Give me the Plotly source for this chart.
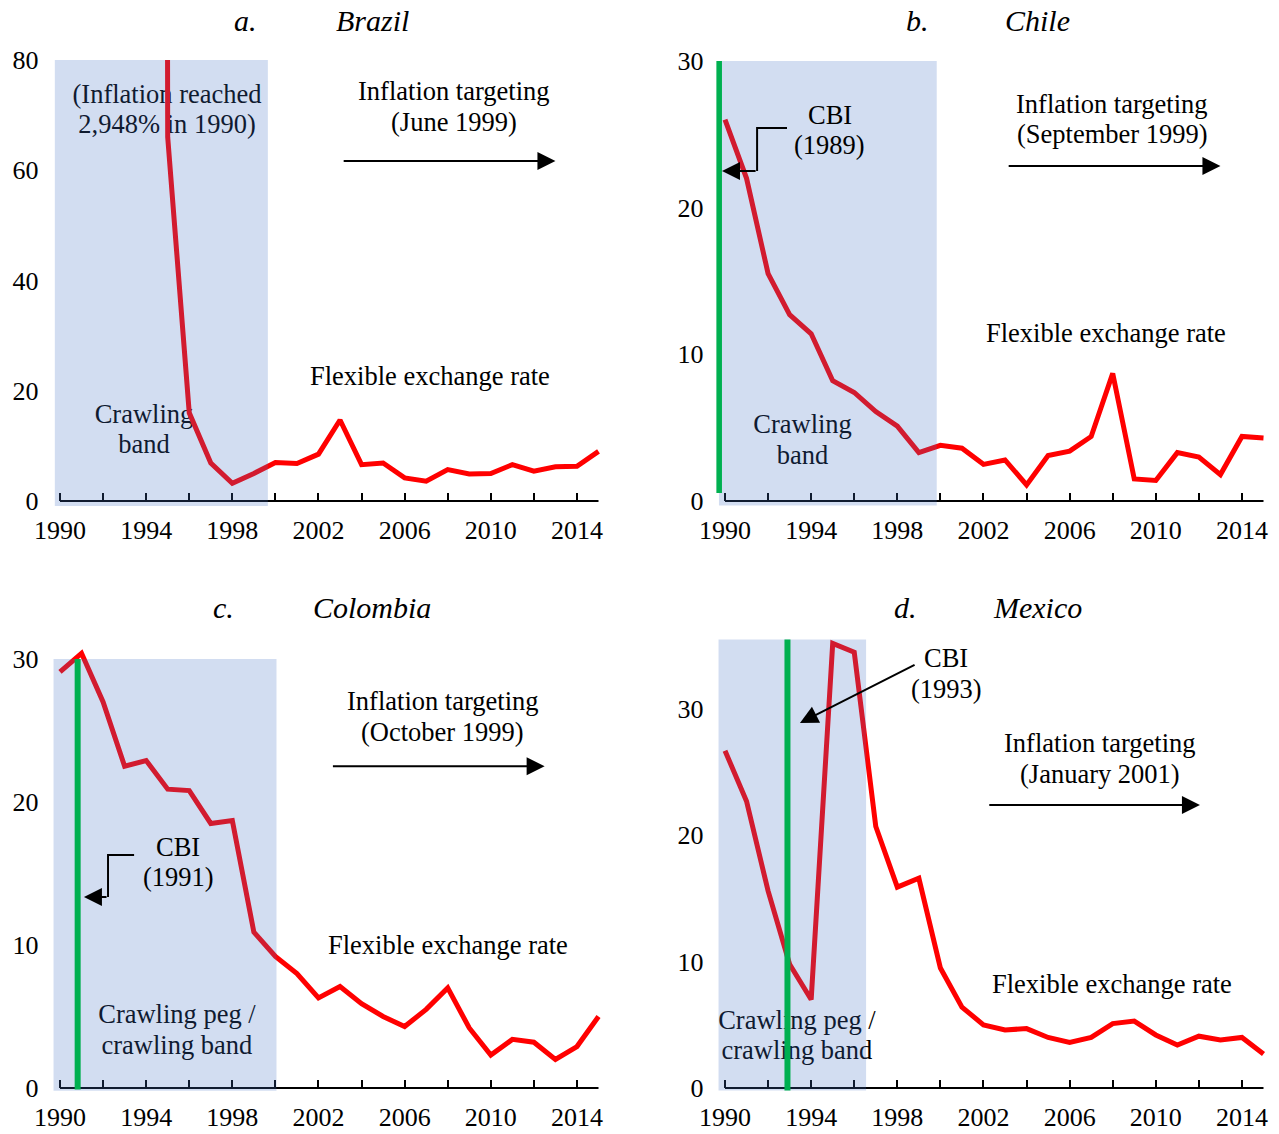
import plotly.graph_objects as go

# The page body margin is removed (post_script), so figure pixels == screen pixels.
OFF = 0
W, H = 1279 - OFF, 1134 - OFF
FONT = "Liberation Serif"

# ---------------- data ----------------
years = list(range(1990, 2016))
brazil = [2948, 433, 952, 1928, 2076, 66.0, 16.0, 6.9, 3.2, 5.0, 7.0, 6.8, 8.5, 14.7,
          6.6, 6.9, 4.2, 3.6, 5.7, 4.9, 5.0, 6.6, 5.4, 6.2, 6.3, 9.0]
chile = [26.0, 22.0, 15.5, 12.7, 11.4, 8.2, 7.4, 6.1, 5.1, 3.3, 3.8, 3.6, 2.5, 2.8,
         1.1, 3.1, 3.4, 4.4, 8.7, 1.5, 1.4, 3.3, 3.0, 1.8, 4.4, 4.3]
colombia = [29.1, 30.4, 27.0, 22.5, 22.9, 20.9, 20.8, 18.5, 18.7, 10.9, 9.2, 8.0, 6.3,
            7.1, 5.9, 5.0, 4.3, 5.5, 7.0, 4.2, 2.3, 3.4, 3.2, 2.0, 2.9, 5.0]
mexico = [26.7, 22.7, 15.6, 9.8, 7.0, 35.2, 34.5, 20.7, 15.9, 16.6, 9.5, 6.4, 5.0, 4.6,
          4.7, 4.0, 3.6, 4.0, 5.1, 5.3, 4.2, 3.4, 4.1, 3.8, 4.0, 2.7]

letters = ["a.", "b.", "c.", "d."]
countries = ["Brazil", "Chile", "Colombia", "Mexico"]
y_ticks = [[0, 20, 40, 60, 80], [0, 10, 20, 30], [0, 10, 20, 30], [0, 10, 20, 30]]
it_labels = ["(June 1999)", "(September 1999)", "(October 1999)", "(January 2001)"]
cbi_labels = [None, "(1989)", "(1991)", "(1993)"]

# ---------------- layout geometry (screen pixels) ----------------
PPY = 21.54
XR = (1989.6, 2015.2)
panels = [
    dict(series=brazil, x0px=60, zpx=501, ppu=5.5125, yr=(-1, 80),
         shade=(1989.76, 1999.65, -0.9, 80), green=None, tx=(245, 372), ty=21),
    dict(series=chile, x0px=725, zpx=501, ppu=14.667, yr=(-0.4, 30),
         shade=(1989.72, 1999.83, -0.3, 30), green=(1989.72, 0.55, 30), tx=(917, 1037), ty=21),
    dict(series=colombia, x0px=60, zpx=1088, ppu=14.3, yr=(-0.3, 30.7),
         shade=(1989.7, 2000.05, -0.2, 30), green=(1990.82, -0.1, 30), tx=(223, 372), ty=607),
    dict(series=mexico, x0px=725, zpx=1088, ppu=12.633, yr=(-0.3, 35.6),
         shade=(1989.7, 1996.55, -0.2, 35.5), green=(1992.9, -0.2, 35.5), tx=(905, 1037), ty=607),
]


def pxx(x):
    return (x - OFF) / W


def pxy(y):
    return 1 - (y - OFF) / H


fig = go.Figure()
shapes = []
annotations = []
TXT = 26.5
black_font = dict(family=FONT, size=TXT, color="black")


def text_trace(xr, yr, xs, ys, texts):
    fig.add_trace(go.Scatter(x=xs, y=ys, text=texts, mode="text", textfont=black_font,
                             textposition="middle center", cliponaxis=False,
                             hoverinfo="skip", showlegend=False, xaxis=xr, yaxis=yr))


def ann(xr, yr, x, y, text, size=TXT):
    annotations.append(dict(x=x, y=y, xref=xr, yref=yr, text=text, showarrow=False,
                            font=dict(family=FONT, size=size, color="black"),
                            xanchor="center", yanchor="middle"))


def arrow(xr, yr, x, y, ax, ay):
    annotations.append(dict(x=x, y=y, ax=ax, ay=ay, xref=xr, yref=yr, axref=xr, ayref=yr,
                            text="", showarrow=True, arrowhead=2, arrowsize=1.8,
                            arrowwidth=2, arrowcolor="black", standoff=0))


for i, p in enumerate(panels):
    sfx = "" if i == 0 else str(i + 1)
    xr, yr = "x" + sfx, "y" + sfx
    left = p["x0px"] + (XR[0] - 1990) * PPY
    right = p["x0px"] + (XR[1] - 1990) * PPY
    top = p["zpx"] - p["yr"][1] * p["ppu"]
    bottom = p["zpx"] - p["yr"][0] * p["ppu"]

    fig.update_layout(**{
        "xaxis" + sfx: dict(domain=[pxx(left), pxx(right)], range=list(XR), anchor="free",
                            position=pxy(p["zpx"]), showgrid=False, zeroline=False,
                            showline=False, tickmode="linear", tick0=1990, dtick=4,
                            ticks="inside", ticklen=8, tickwidth=2, tickcolor="black",
                            tickfont=dict(family=FONT, size=26, color="black"),
                            ticklabelstandoff=11, automargin=False, fixedrange=True,
                            minor=dict(tick0=1990, dtick=2, ticks="inside", ticklen=8,
                                       tickwidth=2, tickcolor="black")),
        "yaxis" + sfx: dict(domain=[pxy(bottom), pxy(top)], range=list(p["yr"]),
                            anchor=xr, showgrid=False, zeroline=False, showline=False,
                            ticks="", tickmode="array", tickvals=y_ticks[i],
                            tickfont=dict(family=FONT, size=26, color="black"),
                            ticklabelstandoff=12, automargin=False, fixedrange=True),
    })

    # labels that sit under the lines
    if i == 0:
        text_trace(xr, yr, [1994.97, 1994.97, 1993.9, 1993.9], [73.4, 67.9, 15.3, 9.9],
                   ["(Inflation reached", "2,948% in 1990)", "Crawling", "band"])
    elif i == 1:
        text_trace(xr, yr, [1993.6, 1993.6], [5.1, 2.97], ["Crawling", "band"])
    elif i == 2:
        text_trace(xr, yr, [1995.43, 1995.43], [5.0, 2.84], ["Crawling peg /", "crawling band"])
    else:
        text_trace(xr, yr, [1993.34, 1993.34], [5.2, 2.83], ["Crawling peg /", "crawling band"])

    fig.add_trace(go.Scatter(x=years, y=p["series"], mode="lines",
                             line=dict(color="#ff0000", width=5), cliponaxis=True,
                             hoverinfo="skip", showlegend=False, xaxis=xr, yaxis=yr))

    # axis line at zero
    shapes.append(dict(type="line", xref=xr, yref=yr, x0=1990, x1=2015, y0=0, y1=0,
                       line=dict(color="black", width=2), layer="above"))
    # shaded regime band
    sx0, sx1, sy0, sy1 = p["shade"]
    shapes.append(dict(type="rect", xref=xr, yref=yr, x0=sx0, x1=sx1, y0=sy0, y1=sy1,
                       fillcolor="rgba(68,114,196,0.24)", line=dict(width=0), layer="above"))
    if p["green"]:
        gx, gy0, gy1 = p["green"]
        shapes.append(dict(type="line", xref=xr, yref=yr, x0=gx, x1=gx, y0=gy0, y1=gy1,
                           line=dict(color="#00b050", width=6), layer="above"))

    # titles
    for txt, tx in ((letters[i], p["tx"][0]), (countries[i], p["tx"][1])):
        annotations.append(dict(x=pxx(tx), y=pxy(p["ty"]), xref="paper", yref="paper",
                                text=txt, showarrow=False, xanchor="center", yanchor="middle",
                                borderpad=0,
                                font=dict(family=FONT, size=30, color="black", style="italic")))

# ----- panel a: Brazil -----
ann("x", "y", 2008.3, 74.4, "Inflation targeting")
ann("x", "y", 2008.3, 68.8, it_labels[0])
arrow("x", "y", 2013.0, 61.7, 2003.1, 61.7)
ann("x", "y", 2007.2, 22.7, "Flexible exchange rate")

# ----- panel b: Chile -----
ann("x2", "y2", 1994.87, 26.3, "CBI")
ann("x2", "y2", 1994.87, 24.3, cbi_labels[1])
shapes.append(dict(type="path", xref="x2", yref="y2",
                   path="M 1992.88 25.43 L 1991.49 25.43 L 1991.49 22.5",
                   line=dict(color="black", width=2), layer="above"))
arrow("x2", "y2", 1989.86, 22.5, 1991.49, 22.5)
ann("x2", "y2", 2007.97, 27.1, "Inflation targeting")
ann("x2", "y2", 2007.97, 25.0, it_labels[1])
arrow("x2", "y2", 2013.0, 22.84, 2003.1, 22.84)
ann("x2", "y2", 2007.7, 11.45, "Flexible exchange rate")

# ----- panel c: Colombia -----
ann("x3", "y3", 1995.48, 16.85, "CBI")
ann("x3", "y3", 1995.48, 14.75, cbi_labels[2])
shapes.append(dict(type="path", xref="x3", yref="y3",
                   path="M 1993.44 16.3 L 1992.23 16.3 L 1992.23 13.36",
                   line=dict(color="black", width=2), layer="above"))
arrow("x3", "y3", 1991.11, 13.36, 1992.23, 13.36)
ann("x3", "y3", 2007.78, 27.06, "Inflation targeting")
ann("x3", "y3", 2007.78, 24.9, it_labels[2])
arrow("x3", "y3", 2012.5, 22.5, 2002.6, 22.5)
ann("x3", "y3", 2008.0, 10.0, "Flexible exchange rate")

# ----- panel d: Mexico -----
ann("x4", "y4", 2000.26, 34.04, "CBI")
ann("x4", "y4", 2000.26, 31.6, cbi_labels[3])
arrow("x4", "y4", 1993.48, 28.9, 1998.87, 33.56)
ann("x4", "y4", 2007.41, 27.3, "Inflation targeting")
ann("x4", "y4", 2007.41, 24.86, it_labels[3])
arrow("x4", "y4", 2012.05, 22.4, 2002.2, 22.4)
ann("x4", "y4", 2007.97, 8.23, "Flexible exchange rate")

fig.update_layout(template="none", width=W, height=H, margin=dict(l=0, r=0, t=0, b=0, pad=0),
                  paper_bgcolor="white", plot_bgcolor="white", hovermode=False,
                  shapes=shapes, annotations=annotations, showlegend=False,
                  font=dict(family=FONT, color="black"))

fig.write_html("out.html", config={"displayModeBar": False, "staticPlot": True},
               post_script="document.body.style.margin='0px';document.body.style.overflow='hidden';")
